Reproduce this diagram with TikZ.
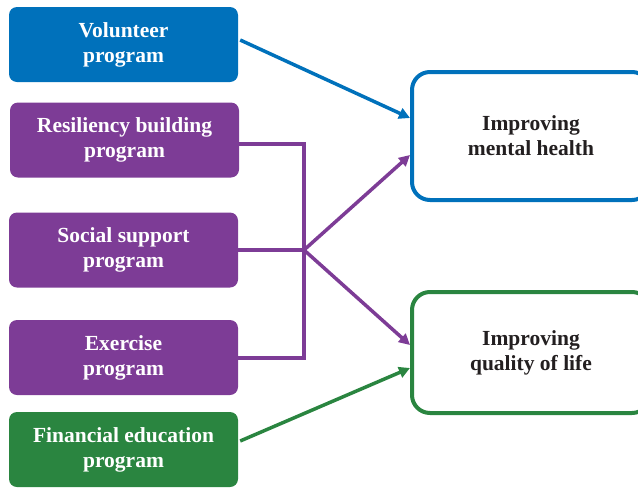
\documentclass[tikz,border=0pt]{standalone}
\usepackage{fontspec}
\setmainfont{Liberation Serif}
\usetikzlibrary{arrows.meta,positioning}
\definecolor{ocean}{RGB}{0,113,187}
\definecolor{plum}{RGB}{125,60,150}
\definecolor{forest}{RGB}{42,133,64}
\definecolor{ink}{RGB}{35,31,32}

\tikzset{
  prog/.style={rounded corners=8pt,minimum width=229pt,minimum height=75pt,
    inner sep=0pt,align=center,text=white,font=\fontsize{21.5}{25}\selectfont\bfseries},
  goal/.style={draw,line width=4pt,rounded corners=18pt,fill=white,minimum width=238pt,
    inner sep=0pt,align=center,text=ink,font=\fontsize{21.5}{25}\selectfont\bfseries},
  link/.style={line width=3.5pt,-{Triangle[length=11pt,width=11pt]}},
  brace/.style={line width=4pt,plum}
}

\begin{document}
\begin{tikzpicture}[x=1pt,y=-1pt]
  \useasboundingbox (0,0) rectangle (638,488);

  % left column
  \node[prog,fill=ocean] (volunteer) at (123.5,44.5) {Volunteer\\program};
  \node[prog,fill=plum] (resiliency) at (124.5,140) {Resiliency building\\program};
  \node[prog,fill=plum] (social) at (123.5,250) {Social support\\program};
  \node[prog,fill=plum] (exercise) at (123.5,357.5) {Exercise\\program};
  \node[prog,fill=forest] (financial) at (123.5,449.5) {Financial education\\program};

  % right column
  \node[goal,draw=ocean,minimum height=128pt] (mental) at (531,136) {Improving\\mental health};
  \node[goal,draw=forest,minimum height=121pt] (quality) at (531,352.5) {Improving\\quality of life};

  \coordinate (junction) at (304,250);

  % purple bracket
  \draw[brace] ([yshift=-4pt]resiliency.east) -| (junction) |- (exercise.east);
  \draw[brace] (social.east) -- (junction);

  % arrows
  \draw[link,ocean] ([shift={(2pt,4.5pt)}]volunteer.east) -- ([yshift=18pt]mental.west);
  \draw[link,plum] (junction) -- ([yshift=-19pt]mental.west);
  \draw[link,plum] (junction) -- ([yshift=7.5pt]quality.west);
  \draw[link,forest] ([shift={(2pt,8.5pt)}]financial.east) -- ([yshift=-15.5pt]quality.west);
\end{tikzpicture}
\end{document}
